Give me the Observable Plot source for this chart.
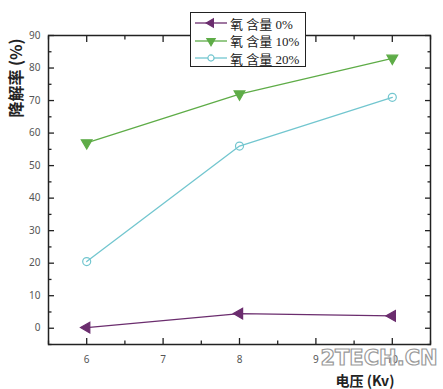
<!DOCTYPE html>
<html><head><meta charset="utf-8">
<script src="https://cdn.jsdelivr.net/npm/d3@7"></script>
<script src="https://cdn.jsdelivr.net/npm/@observablehq/plot@0.6"></script>
<style>
body{margin:0;background:#fff;font-family:"Noto Sans CJK SC","DejaVu Sans",sans-serif;}
#wrap{position:relative;width:443px;height:389px;}
.lab{position:absolute;color:#222;font-weight:bold;white-space:nowrap;}
#legend{position:absolute;left:190px;top:12px;width:114px;height:53px;border:1.5px solid #222;background:#fff;}
.row{position:absolute;left:3px;height:18px;display:flex;align-items:center;font-size:12px;color:#222;}
.row span{font-family:"Liberation Serif","Noto Sans CJK SC",serif;font-size:13px;}
</style></head>
<body><div id="wrap"></div>
<script>
const voltages = [6, 8, 10];
const seriesNames = ["氧 含量 0%", "氧 含量 10%", "氧 含量 20%"];
const o2_0 = [0.2, 4.5, 3.8];
const o2_10 = [57, 72, 83];
const o2_20 = [20.5, 56, 71];
const colors = ["#6b2d6e", "#5eac47", "#72c6cf"];
const symbols = ["triangle", "triangle", "circle"];
const rotations = [-90, 180, 0];
const fills = ["#6b2d6e", "#5eac47", "none"];
const xTicks = [6, 7, 8, 9, 10];
const xMinor = [5.5, 6.5, 7.5, 8.5, 9.5, 10.5];
const yTicks = [0, 10, 20, 30, 40, 50, 60, 70, 80, 90];
const yMinor = [-5, 5, 15, 25, 35, 45, 55, 65, 75, 85];
const xDomain = [5.5, 10.5];
const yDomain = [-5, 90];

const W = 443, H = 389, mL = 48, mR = 13, mT = 35, mB = 45;

const vals = [o2_0, o2_10, o2_20];
const data = [];
vals.forEach((arr, s) => arr.forEach((v, i) => data.push({x: voltages[i], y: v, s})));

// inward ticks via axis marks shifted inside the frame
const tk = {text: null, label: null, stroke: "#222", strokeWidth: 1.3};
const inward = (fn, arr, anchor, len) => {
  const shift = {bottom: {dy: -len}, top: {dy: len}, left: {dx: len}, right: {dx: -len}}[anchor];
  return fn(arr, {...tk, anchor, tickSize: len, ...shift});
};

const marks = [
  Plot.frame({stroke: "#222", strokeWidth: 1.5}),
  Plot.axisX(xTicks, {tickSize: 0, tickPadding: 11, fontSize: 10, fill: "#555", label: null}),
  Plot.axisY(yTicks, {tickSize: 0, tickPadding: 8, fontSize: 10, fill: "#555", label: null}),
  inward(Plot.axisX, xTicks, "bottom", 6), inward(Plot.axisX, xMinor, "bottom", 3.5),
  inward(Plot.axisX, xTicks, "top", 6), inward(Plot.axisX, xMinor, "top", 3.5),
  inward(Plot.axisY, yTicks, "left", 6), inward(Plot.axisY, yMinor, "left", 3.5),
  inward(Plot.axisY, yTicks, "right", 6), inward(Plot.axisY, yMinor, "right", 3.5)
];
vals.forEach((arr, s) => {
  const d = data.filter(p => p.s === s);
  marks.push(Plot.line(d, {x: "x", y: "y", stroke: colors[s], strokeWidth: 1.3}));
  marks.push(Plot.dot(d, {x: "x", y: "y", symbol: symbols[s], rotate: rotations[s], r: 4, fill: fills[s], stroke: colors[s], strokeWidth: 1.2}));
});

const chart = Plot.plot({
  width: W, height: H,
  marginLeft: mL, marginRight: mR, marginTop: mT, marginBottom: mB,
  x: {domain: xDomain, axis: null},
  y: {domain: yDomain, axis: null},
  style: {background: "#fff", overflow: "visible"},
  marks
});
const wrap = document.getElementById("wrap");
wrap.appendChild(chart);

// Titles
const yl = document.createElement("div");
yl.className = "lab";
yl.textContent = "降解率 (%)";
yl.style.cssText += "font-size:16px;left:15px;top:78px;transform:translate(-50%,-50%) rotate(-90deg);";
wrap.appendChild(yl);
const wm = document.createElement("div");
wm.className = "lab";
wm.textContent = "2TECH.CN";
wm.style.cssText += "font-family:'DejaVu Sans';font-size:21px;left:379px;top:358px;transform:translate(-50%,-50%);color:rgba(255,255,255,0.6);-webkit-text-stroke:1.2px #9a9a9a;";
wrap.appendChild(wm);
const xl = document.createElement("div");
xl.className = "lab";
xl.textContent = "电压 (Kv)";
xl.style.cssText += "font-size:14px;left:365px;top:380px;transform:translate(-50%,-50%);";
wrap.appendChild(xl);

// Legend
const lg = document.createElement("div");
lg.id = "legend";
seriesNames.forEach((name, s) => {
  const row = document.createElement("div");
  row.className = "row";
  row.style.top = (1 + s * 17.5) + "px";
  const path = d3.symbol(s === 2 ? d3.symbolCircle : d3.symbolTriangle, 30)();
  row.innerHTML = `<svg width="34" height="16" style="margin-right:2px"><line x1="1" x2="33" y1="8" y2="8" stroke="${colors[s]}" stroke-width="1.3"/><path d="${path}" transform="translate(17,8) rotate(${rotations[s]})" fill="${s===2?'#fff':colors[s]}" stroke="${colors[s]}" stroke-width="1.2"/></svg><span>${name}</span>`;
  lg.appendChild(row);
});
wrap.appendChild(lg);
</script></body></html>
